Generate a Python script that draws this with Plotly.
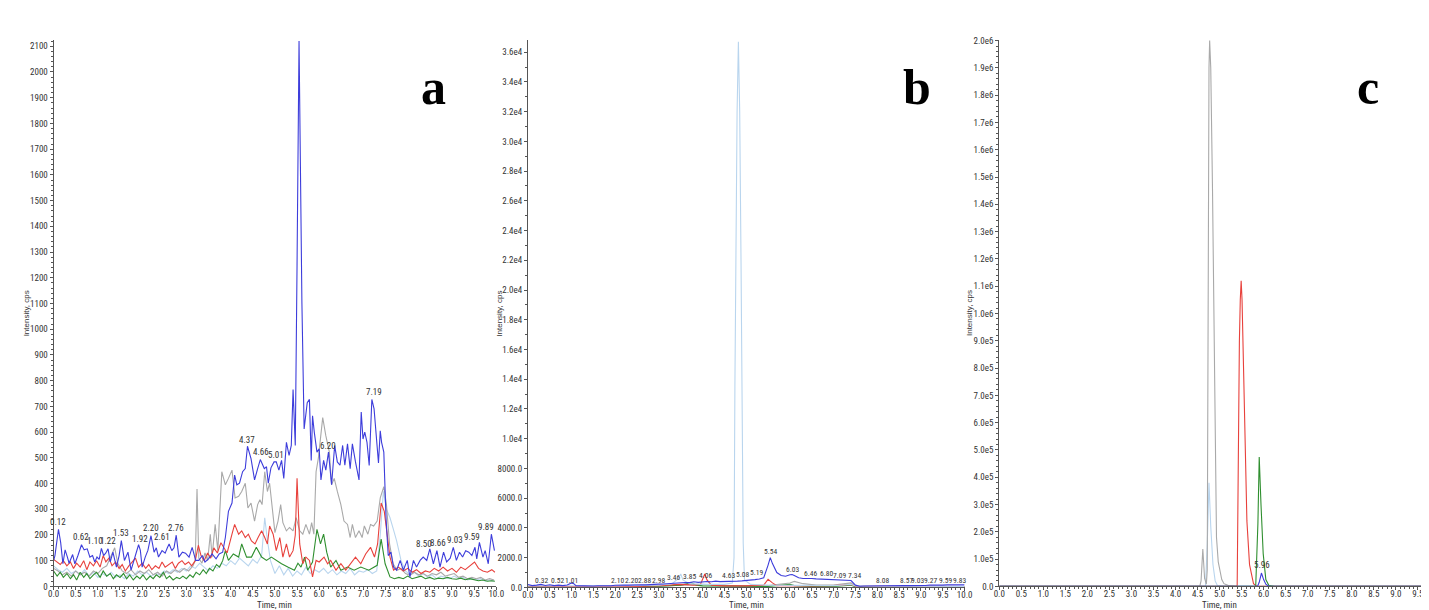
import plotly.graph_objects as go

W, H = 1429, 610

# ---------------- Panel a data (time, min ; intensity, cps) ----------------
a_t_blue = [0.00,0.03,0.11,0.16,0.21,0.26,0.31,0.35,0.43,0.48,0.55,0.63,0.69,0.76,0.82,0.88,0.93,0.98,1.03,1.08,
            1.13,1.18,1.23,1.28,1.34,1.42,1.48,1.53,1.60,1.68,1.75,1.83,1.92,1.96,2.00,2.07,2.13,2.20,2.27,2.32,
            2.37,2.45,2.52,2.57,2.61,2.67,2.72,2.77,2.83,2.91,2.98,3.06,3.13,3.21,3.28,3.36,3.42,3.50,3.58,3.67,
            3.74,3.82,3.88,3.95,4.03,4.09,4.14,4.20,4.27,4.33,4.38,4.46,4.54,4.61,4.67,4.76,4.81,4.85,4.91,4.98,
            5.03,5.09,5.15,5.20,5.26,5.32,5.37,5.41,5.46,5.50,5.545,5.61,5.66,5.73,5.78,5.82,5.85,5.89,5.95,6.00,
            6.04,6.10,6.15,6.21,6.28,6.35,6.41,6.47,6.53,6.58,6.64,6.70,6.75,6.82,6.90,6.95,6.99,7.03,7.08,7.13,
            7.19,7.24,7.29,7.34,7.38,7.41,7.46,7.51,7.56,7.62,7.68,7.75,7.83,7.90,7.99,8.05,8.13,8.20,8.28,8.35,
            8.43,8.50,8.58,8.66,8.73,8.81,8.88,8.96,9.03,9.10,9.17,9.24,9.31,9.38,9.45,9.52,9.56,9.62,9.70,9.75,
            9.82,9.89,9.96]
a_blue = [100,120,222,170,88,142,115,90,124,88,120,162,142,146,114,120,95,114,105,148,
          120,130,146,95,133,75,120,178,101,133,63,114,162,140,75,114,140,197,133,150,
          114,139,129,150,165,139,150,199,114,133,129,114,152,101,101,120,95,107,126,107,
          126,133,190,292,324,433,395,401,446,458,545,497,414,458,493,458,465,401,461,484,
          484,452,490,420,560,509,548,765,548,1250,2120,1100,612,714,727,490,663,599,522,535,
          414,490,452,522,395,548,484,471,548,471,554,458,554,484,414,678,573,600,560,470,
          727,690,600,480,605,560,522,267,120,133,75,63,101,63,101,37,101,75,101,114,
          101,146,88,139,75,133,95,110,152,101,133,114,139,133,120,152,107,171,114,139,
          88,203,139]

a_t_gray = [0.00,0.10,0.20,0.30,0.40,0.50,0.60,0.70,0.80,0.90,1.00,1.10,1.20,1.30,1.38,1.45,1.55,1.65,1.75,1.85,
            1.95,2.05,2.15,2.25,2.35,2.45,2.55,2.65,2.75,2.85,2.95,3.05,3.15,3.20,3.24,3.28,3.35,3.42,3.48,3.54,
            3.58,3.65,3.71,3.80,3.88,3.95,4.03,4.10,4.18,4.25,4.33,4.39,4.46,4.54,4.61,4.66,4.71,4.77,4.83,4.88,
            4.94,5.00,5.07,5.13,5.18,5.26,5.33,5.41,5.48,5.56,5.63,5.70,5.78,5.83,5.88,5.93,5.98,6.08,6.15,6.23,
            6.28,6.34,6.41,6.49,6.56,6.64,6.70,6.75,6.82,6.90,6.97,7.02,7.10,7.16,7.23,7.31,7.38,7.46,7.52,7.59,
            7.67,7.76,7.85,7.95,8.05,8.15,8.25,8.35,8.45,8.55,8.65,8.75,8.85,8.95,9.05,9.15,9.25,9.35,9.45,9.55,
            9.65,9.75,9.85,9.95]
a_gray = [70,60,45,55,40,60,45,55,40,60,50,70,80,120,150,90,60,50,65,45,
          60,50,65,45,55,40,60,50,65,55,70,60,80,100,379,110,90,130,100,203,
          114,241,139,446,395,420,452,344,350,369,401,305,324,254,318,337,318,446,369,401,
          292,209,254,318,248,216,229,216,267,216,203,241,203,248,203,446,497,656,586,522,
          395,420,369,318,254,241,190,241,190,216,190,235,203,241,235,254,344,388,318,165,
          88,63,70,50,43,55,45,50,40,50,45,55,40,45,50,35,40,30,35,30,
          35,25,30,25]

a_t_red = [0.00,0.08,0.15,0.22,0.30,0.38,0.45,0.52,0.60,0.68,0.75,0.82,0.90,0.97,1.05,1.12,1.18,1.25,1.32,1.40,
           1.48,1.55,1.62,1.70,1.78,1.85,1.92,2.00,2.08,2.15,2.22,2.30,2.38,2.45,2.52,2.60,2.68,2.75,2.82,2.90,
           2.97,3.05,3.12,3.20,3.27,3.33,3.40,3.48,3.55,3.62,3.70,3.78,3.85,3.92,4.03,4.09,4.18,4.25,4.33,4.40,
           4.47,4.55,4.62,4.70,4.77,4.83,4.88,4.96,5.03,5.11,5.18,5.26,5.33,5.41,5.46,5.50,5.56,5.63,5.70,5.78,
           5.85,5.93,6.00,6.11,6.19,6.26,6.38,6.49,6.60,6.71,6.82,6.94,7.05,7.16,7.25,7.32,7.40,7.47,7.53,7.60,
           7.68,7.79,7.90,8.00,8.10,8.20,8.30,8.40,8.50,8.60,8.70,8.80,8.90,9.00,9.10,9.20,9.30,9.40,9.51,9.60,
           9.70,9.80,9.90,9.97]
a_red = [105,95,85,100,80,95,70,90,75,100,65,95,80,100,75,120,95,110,80,95,
         70,85,60,80,95,110,75,90,70,85,65,80,70,95,75,85,95,70,90,100,
         85,95,80,100,160,120,100,130,110,150,130,170,150,130,203,241,203,216,190,203,
         177,165,190,216,190,165,235,203,139,190,114,165,114,139,200,420,165,88,114,101,
         37,101,95,114,88,101,63,88,63,88,114,88,126,152,114,165,324,292,216,114,
         63,75,60,70,55,65,50,60,55,70,60,75,60,70,55,75,65,80,95,70,
         60,55,65,55]

a_t_green = [0.00,0.08,0.15,0.22,0.30,0.38,0.45,0.52,0.60,0.68,0.75,0.82,0.90,0.97,1.05,1.12,1.20,1.28,1.35,1.42,
             1.50,1.58,1.65,1.72,1.80,1.88,1.95,2.02,2.10,2.18,2.25,2.32,2.40,2.48,2.55,2.62,2.70,2.78,2.85,2.92,
             3.00,3.08,3.15,3.22,3.30,3.38,3.45,3.52,3.60,3.68,3.75,3.82,3.88,3.95,4.06,4.18,4.25,4.36,4.47,4.58,
             4.70,4.81,4.92,5.03,5.15,5.29,5.44,5.52,5.59,5.67,5.74,5.85,5.95,6.03,6.10,6.17,6.26,6.38,6.49,6.64,
             6.79,6.94,7.12,7.31,7.40,7.49,7.60,7.70,7.80,7.90,8.00,8.10,8.20,8.30,8.40,8.50,8.60,8.70,8.80,8.90,
             9.00,9.10,9.20,9.30,9.40,9.50,9.60,9.70,9.80,9.90,9.97]
a_green = [60,40,55,35,50,30,45,25,55,35,50,30,45,55,35,60,40,50,30,45,
           35,50,30,45,25,40,30,45,25,40,30,45,35,55,30,40,25,35,30,40,
           30,45,35,55,45,65,50,70,60,85,75,100,139,101,126,114,165,114,114,152,
           114,101,114,101,88,75,63,90,75,114,63,95,222,165,203,133,75,101,63,75,
           63,75,63,82,184,88,37,30,35,30,40,30,35,40,30,35,28,32,30,35,
           30,28,32,26,30,25,22,25,20,22,20]

a_t_lblue = [0.0,0.1,0.2,0.3,0.4,0.5,0.6,0.7,0.8,0.9,1.0,1.1,1.2,1.3,1.4,1.5,1.6,1.7,1.8,1.9,
             2.0,2.1,2.2,2.3,2.4,2.5,2.6,2.7,2.8,2.9,3.0,3.1,3.2,3.3,3.4,3.5,3.6,3.7,3.8,3.9,
             4.0,4.1,4.2,4.3,4.4,4.5,4.6,4.7,4.77,4.83,4.9,5.0,5.1,5.2,5.3,5.4,5.5,5.6,5.7,5.8,
             5.9,6.0,6.1,6.2,6.3,6.4,6.5,6.6,6.7,6.8,6.9,7.0,7.1,7.2,7.3,7.38,7.45,7.52,7.60,7.68,
             7.75,7.85,7.95,8.05,8.15,8.25,8.35,8.45,8.55,8.65,8.75,8.85,8.95,9.05,9.15,9.25,9.35,9.45,9.55,9.65,
             9.75,9.85,9.95]
a_lblue = [80,65,55,70,50,60,45,65,40,55,35,50,40,55,35,45,30,50,40,60,
           45,55,40,50,45,60,50,65,55,70,60,80,70,90,75,60,80,70,90,80,
           100,85,110,95,80,105,90,120,267,180,100,50,80,45,70,40,60,45,75,50,
           65,55,70,50,65,45,60,50,70,45,60,55,65,50,60,200,370,300,267,220,
           177,100,60,45,55,40,50,35,45,30,40,35,30,40,30,35,25,30,25,30,
           20,25,20]

a_label_text = ["0.12","0.62","1.10","1.22","1.53","1.92","2.20","2.61","2.76","4.37",
                "4.66","5.01","5.54","6.20","7.19","8.50","8.66","9.03","9.59","9.89"]
a_label_t = [0.11,0.63,0.93,1.24,1.52,1.95,2.19,2.46,2.77,4.38,4.68,5.03,5.57,6.20,7.23,8.37,8.68,9.06,9.46,9.78]
a_label_v = [249,192,176,176,207,184,226,192,226,571,521,510,2149,544,755,165,169,180,192,230]

# ---------------- Panel b data ----------------
b_t_blue = [0.0,0.1,0.2,0.3,0.4,0.5,0.6,0.7,0.8,0.9,1.0,1.05,1.1,1.2,1.3,1.4,1.5,1.6,1.7,1.8,
            1.9,2.0,2.1,2.2,2.3,2.4,2.5,2.6,2.7,2.8,2.9,3.0,3.1,3.2,3.3,3.4,3.5,3.6,3.7,3.8,
            3.9,4.0,4.1,4.2,4.3,4.4,4.5,4.6,4.7,4.8,4.9,5.0,5.1,5.2,5.3,5.4,5.5,5.55,5.6,5.7,
            5.8,5.9,6.0,6.05,6.1,6.2,6.3,6.4,6.5,6.6,6.7,6.8,6.9,7.0,7.1,7.2,7.3,7.4,7.5,7.6,
            7.7,7.8,7.9,8.0,8.1,8.2,8.3,8.4,8.5,8.6,8.7,8.8,8.9,9.0,9.1,9.2,9.3,9.4,9.5,9.6,
            9.7,9.8,9.9,10.0]
b_blue = [200,120,150,200,130,180,120,150,120,160,300,250,120,100,80,100,90,110,100,120,
          110,140,170,160,150,170,160,180,170,200,190,220,230,250,260,300,350,330,320,380,
          340,380,400,380,420,390,410,400,430,420,440,450,500,520,560,650,1500,2000,1600,1000,
          800,750,850,870,800,650,600,620,600,570,560,550,520,520,480,470,480,460,150,80,
          90,100,110,120,100,110,100,110,120,130,120,110,130,140,130,150,140,160,150,170,
          160,180,150,170]

b_t_lblue = [0.0,1.0,2.0,3.0,3.3,3.45,3.5,3.55,3.7,4.0,4.5,4.68,4.72,4.74,4.76,4.79,4.82,4.85,4.88,4.905,
             4.93,4.96,5.1,5.5,6.0,7.0,7.4,7.5,8.0,9.0,10.0]
b_lblue = [100,80,100,150,250,600,900,500,250,200,200,300,2000,13500,22000,32000,36700,32000,22000,13500,
           3000,500,200,150,150,120,200,100,80,80,60]

b_t_red = [0.0,0.5,1.0,1.5,2.0,2.5,3.0,3.5,3.8,3.95,4.05,4.1,4.2,4.5,5.0,5.4,5.5,5.6,5.7,6.0,
           6.5,7.0,7.4,7.5,8.0,9.0,10.0]
b_red = [80,60,70,50,80,70,120,200,150,200,900,500,150,100,100,150,550,300,120,100,
         100,120,200,80,60,70,60]

b_t_green = [0.0,1.0,2.0,3.0,3.5,3.75,3.85,4.0,4.5,5.0,5.5,6.0,6.1,6.5,7.0,7.4,7.5,8.0,9.0,10.0]
b_green = [50,40,50,80,150,300,150,100,80,70,60,200,120,60,60,150,40,30,30,25]

b_t_gray = [0.0,2.0,3.0,3.5,4.0,4.5,5.0,5.5,6.0,6.1,6.3,6.6,7.0,7.4,7.5,8.0,9.0,10.0]
b_gray = [50,60,80,150,200,120,100,120,300,400,250,150,150,300,80,40,30,25]

b_label_text = ["0.32","0.52","1.01","2.10","2.20","2.88","2.98","3.46","3.85","4.06","4.63","5.08","5.19",
                "5.54","6.03","6.46","6.80","7.09","7.34","8.08","8.57","9.03","9.27","9.59","9.83"]
b_label_t = [0.32,0.68,1.00,2.06,2.38,2.68,2.99,3.33,3.70,4.06,4.60,4.92,5.24,5.56,6.05,6.46,6.83,7.14,7.48,
             8.12,8.66,8.93,9.23,9.57,9.89]
b_label_v = [464,464,464,464,464,464,464,663,729,795,795,861,994,2386,1193,928,928,795,795,464,464,464,464,464,464]

# ---------------- Panel c data ----------------
c_t_gray = [0.0,4.55,4.58,4.62,4.66,4.70,4.72,4.735,4.76,4.775,4.80,4.84,4.87,4.90,4.93,4.97,5.01,5.05,5.10,5.20,5.40,9.75]
c_gray = [0,0,20000,137000,30000,8000,60000,1.0e6,1.9e6,2.0e6,1.9e6,1.45e6,1.0e6,4.5e5,1.8e5,9e4,5e4,2.5e4,1.0e4,3000,0,0]

c_t_lblue = [0.0,4.68,4.72,4.76,4.80,4.85,4.90,4.95,5.10,9.75]
c_lblue = [0,0,1.5e5,3.8e5,2.2e5,8e4,2e4,3000,0,0]

c_t_red = [0.0,5.39,5.40,5.41,5.43,5.45,5.47,5.49,5.51,5.53,5.56,5.59,5.62,5.68,5.77,5.85,9.75]
c_red = [0,0,5000,1.8e5,6.6e5,9.0e5,1.05e6,1.12e6,1.05e6,9.0e5,6.6e5,4.2e5,2.4e5,8e4,1e4,0,0]

c_t_green = [0.0,5.82,5.87,5.90,5.94,5.99,6.05,6.12,6.25,9.75]
c_green = [0,0,2.3e5,4.74e5,3.0e5,1.2e5,2.5e4,3000,0,0]

c_t_blue = [0.0,5.86,5.90,5.95,6.00,6.05,6.12,9.75]
c_blue = [0,0,1.5e4,4.9e4,2.5e4,8000,0,0]

c_label_text = ["5.96"]
c_label_t = [5.96]
c_label_v = [77000]

# tick labels
a_yticks = list(range(0, 2101, 100))
b_yticks = [0, 2000, 4000, 6000, 8000, 10000, 12000, 14000, 16000, 18000, 20000, 22000, 24000,
            26000, 28000, 30000, 32000, 34000, 36000]
b_yticktext = ["0.0", "2000.0", "4000.0", "6000.0", "8000.0", "1.0e4", "1.2e4", "1.4e4", "1.6e4", "1.8e4",
               "2.0e4", "2.2e4", "2.4e4", "2.6e4", "2.8e4", "3.0e4", "3.2e4", "3.4e4", "3.6e4"]
c_yticks = [i * 100000 for i in range(0, 21)]
c_yticktext = ["0.0"] + ["%.1fe5" % i for i in range(1, 10)] + ["%.1fe6" % (i / 10) for i in range(10, 21)]

panel_letters = ["a", "b", "c"]

# ---------------- colours ----------------
COL = {"blue": "#3d3ddb", "gray": "#a9a9a9", "red": "#e8413c", "green": "#2f8f2f", "lblue": "#b9d5ee"}

NARROW = "Roboto Condensed, DejaVu Sans Condensed, sans-serif"
TICKFONT = dict(family=NARROW, size=9, color="#333")
LABFONT_A = dict(family=NARROW, size=9, color="#333")
LABFONT_B = dict(family=NARROW, size=7.5, color="#333")

def px_x(p):
    return p / W

def px_y(p):
    return 1 - p / H

fig = go.Figure()

def add(x, y, col, ax):
    fig.add_trace(go.Scatter(x=x, y=y, mode="lines", line=dict(color=COL[col], width=1.1),
                             xaxis="x" + ax, yaxis="y" + ax, showlegend=False, hoverinfo="skip"))

# panel a
add(a_t_lblue, a_lblue, "lblue", "")
add(a_t_gray, a_gray, "gray", "")
add(a_t_green, a_green, "green", "")
add(a_t_red, a_red, "red", "")
add(a_t_blue, a_blue, "blue", "")
# panel b
add(b_t_gray, b_gray, "gray", "2")
add(b_t_green, b_green, "green", "2")
add(b_t_red, b_red, "red", "2")
add(b_t_lblue, b_lblue, "lblue", "2")
add(b_t_blue, b_blue, "blue", "2")
# panel c
add(c_t_lblue, c_lblue, "lblue", "3")
add(c_t_gray, c_gray, "gray", "3")
add(c_t_red, c_red, "red", "3")
add(c_t_green, c_green, "green", "3")
add(c_t_blue, c_blue, "blue", "3")

common_axis = dict(showgrid=False, zeroline=False, showline=True, linecolor="#555", linewidth=1,
                   ticks="outside", ticklen=3, tickwidth=1, tickcolor="#555", tickfont=TICKFONT)

def xaxis(dom, rng, anchor):
    return dict(common_axis, domain=dom, range=rng, anchor=anchor, tickmode="linear", tick0=0, dtick=0.5,
                tickformat=".1f", ticklabelstandoff=-4,
                minor=dict(tickmode="linear", tick0=0, dtick=0.1, ticklen=2, ticks="outside", tickcolor="#555"))

ybot = px_y(583)
ytop = px_y(28)

fig.update_layout(
    width=W, height=H, margin=dict(l=0, r=0, t=0, b=0),
    paper_bgcolor="white", plot_bgcolor="white",
    xaxis=xaxis([px_x(40), px_x(487)], [0, 10.0], "y"),
    yaxis=dict(common_axis, domain=[ybot, ytop], range=[0, 2126], anchor="x", tickmode="array",
               tickvals=a_yticks, ticktext=[str(v) for v in a_yticks],
               minor=dict(tickmode="linear", tick0=0, dtick=20, ticklen=2, ticks="outside", tickcolor="#555")),
    xaxis2=xaxis([px_x(519), px_x(960)], [0, 10.0], "y2"),
    yaxis2=dict(common_axis, domain=[px_y(584), ytop], range=[0, 36846], anchor="x2", tickmode="array",
                tickvals=b_yticks, ticktext=b_yticktext,
                minor=dict(tickmode="linear", tick0=0, dtick=1000, ticklen=2, ticks="outside", tickcolor="#555")),
    xaxis3=xaxis([px_x(995), 1.0], [0, 9.753], "y3"),
    yaxis3=dict(common_axis, domain=[ybot, ytop], range=[0, 2.0036e6], anchor="x3", tickmode="array",
                tickvals=c_yticks, ticktext=c_yticktext,
                minor=dict(tickmode="linear", tick0=0, dtick=20000, ticklen=2, ticks="outside", tickcolor="#555")),
)

ann = []
for txt, t, v in zip(a_label_text, a_label_t, a_label_v):
    ann.append(dict(x=t, y=v, xref="x", yref="y", text=txt, showarrow=False, font=LABFONT_A,
                    xanchor="center", yanchor="middle"))
for txt, t, v in zip(b_label_text, b_label_t, b_label_v):
    ann.append(dict(x=t, y=v, xref="x2", yref="y2", text=txt, showarrow=False, font=LABFONT_B,
                    xanchor="center", yanchor="middle"))
for txt, t, v in zip(c_label_text, c_label_t, c_label_v):
    ann.append(dict(x=t, y=v, xref="x3", yref="y3", text=txt, showarrow=False, font=LABFONT_A,
                    xanchor="center", yanchor="middle"))

# axis titles
for xp in (13, 490, 965):
    ann.append(dict(x=px_x(xp), y=px_y(306), xref="paper", yref="paper", text="Intensity, cps",
                    textangle=-90, showarrow=False, xanchor="center", yanchor="middle",
                    font=dict(family="Liberation Sans, Arial, sans-serif", size=8, color="#333")))
for xp in (263, 740, 1217):
    ann.append(dict(x=px_x(xp), y=px_y(609), xref="paper", yref="paper", text="Time, min",
                    showarrow=False, xanchor="center", yanchor="bottom",
                    font=dict(family=NARROW, size=9, color="#333")))

# panel letters
for letter, xp in zip(panel_letters, (424, 912, 1367)):
    ann.append(dict(x=px_x(xp), y=px_y(76), xref="paper", yref="paper", text="<b>%s</b>" % letter,
                    showarrow=False, xanchor="center", yanchor="middle",
                    font=dict(family="Liberation Serif, Times New Roman, serif", size=50, color="black")))

fig.update_layout(annotations=ann)
fig.write_html("out.html")
